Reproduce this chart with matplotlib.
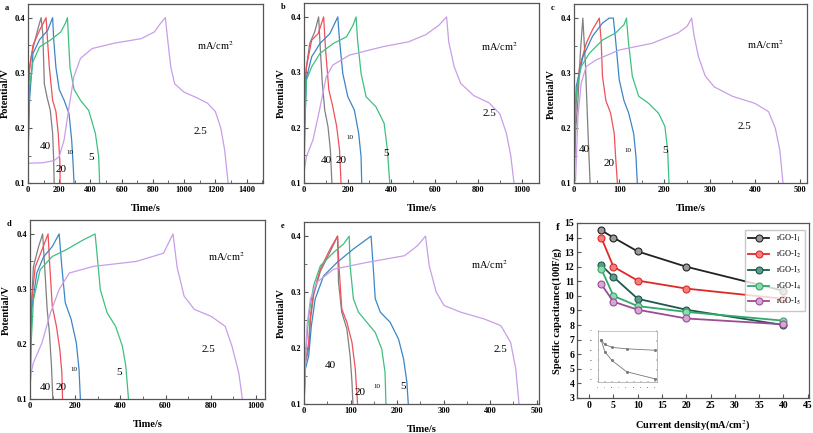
import numpy as np
import matplotlib
matplotlib.use('Agg')
import matplotlib.pyplot as plt
from matplotlib.ticker import MultipleLocator

plt.rcParams['font.family'] = ['Liberation Serif', 'DejaVu Serif']
plt.rcParams['mathtext.fontset'] = 'stix'

# current densities (mA/cm2) of the GCD curves, same order in every panel
currents = ['40', '20', '10', '5', '2.5']

# ---- panel a ----
a_t = [
    [0, 2, 4, 10, 21, 42, 67, 84, 95, 105, 122, 143, 158, 164, 168],
    [0, 2, 5, 12, 32, 74, 116, 125, 137, 158, 179, 194, 204, 206],
    [0, 3, 10, 32, 74, 126, 158, 165, 179, 200, 232, 263, 280, 290, 295],
    [0, 3, 10, 32, 74, 147, 210, 240, 253, 260, 269, 295, 337, 389, 432, 453, 459],
    [0, 95, 168, 200, 231, 263, 294, 336, 410, 557, 725, 809, 850, 880,
     895, 915, 940, 1000, 1080, 1150, 1200, 1235, 1260, 1275, 1282],
]
a_v = [
    [0.1, 0.2, 0.28, 0.31, 0.33, 0.356, 0.383, 0.4, 0.371, 0.28, 0.256, 0.232, 0.19, 0.148, 0.1],
    [0.1, 0.2, 0.28, 0.31, 0.35, 0.377, 0.4, 0.36, 0.31, 0.25, 0.23, 0.19, 0.14, 0.1],
    [0.1, 0.18, 0.25, 0.335, 0.36, 0.377, 0.4, 0.36, 0.31, 0.27, 0.25, 0.226, 0.178, 0.13, 0.1],
    [0.1, 0.18, 0.275, 0.32, 0.347, 0.36, 0.374, 0.39, 0.4, 0.36, 0.31, 0.27, 0.25, 0.232, 0.19, 0.148, 0.1],
    [0.136, 0.137, 0.141, 0.148, 0.178, 0.238, 0.293, 0.326, 0.344, 0.354, 0.362, 0.374, 0.39, 0.4,
     0.36, 0.31, 0.28, 0.265, 0.255, 0.245, 0.23, 0.2, 0.16, 0.12, 0.1],
]

# ---- panel b ----
b_t = [
    [0, 2, 5, 11, 26, 49, 67, 75, 84, 95, 110, 121, 128],
    [0, 2, 5, 11, 35, 65, 90, 99, 114, 132, 150, 163, 170],
    [0, 3, 11, 35, 73, 119, 155, 163, 178, 201, 231, 251, 262, 265],
    [0, 3, 11, 35, 73, 134, 195, 225, 239, 246, 262, 285, 330, 368, 383, 394],
    [0, 11, 41, 71, 102, 132, 208, 360, 480, 560, 620, 655,
     665, 690, 720, 780, 850, 900, 930, 950, 965],
]
b_v = [
    [0.1, 0.2, 0.28, 0.31, 0.352, 0.373, 0.4, 0.34, 0.28, 0.232, 0.202, 0.16, 0.1],
    [0.1, 0.2, 0.28, 0.31, 0.358, 0.37, 0.4, 0.34, 0.268, 0.238, 0.202, 0.16, 0.1],
    [0.1, 0.2, 0.29, 0.328, 0.352, 0.37, 0.4, 0.358, 0.298, 0.256, 0.232, 0.19, 0.148, 0.1],
    [0.1, 0.2, 0.286, 0.31, 0.334, 0.352, 0.364, 0.385, 0.4, 0.358, 0.298, 0.256, 0.238, 0.208, 0.16, 0.1],
    [0.12, 0.148, 0.178, 0.232, 0.292, 0.313, 0.331, 0.346, 0.355, 0.368, 0.385, 0.4,
     0.355, 0.31, 0.28, 0.258, 0.245, 0.225, 0.19, 0.15, 0.1],
]

# ---- panel c ----
c_t = [
    [0, 4, 8.7, 14.5, 19.6, 25.5, 30.5, 35.6],
    [0, 2, 5, 12, 27, 41, 56, 60, 63, 70.5, 81, 89, 92, 96],
    [0, 2, 5, 20, 41, 63, 78, 87, 92, 100, 110.5, 121, 132, 137, 140],
    [0, 2, 5, 16, 34, 63, 92, 110.5, 116, 120, 129, 143, 165, 187, 201, 207, 210],
    [0, 3.6, 8.7, 16, 27, 49, 100, 172, 230, 250, 260,
     265, 275, 290, 310, 350, 400, 430, 445, 455, 462],
]
c_v = [
    [0.1, 0.2, 0.25, 0.342, 0.4, 0.312, 0.203, 0.1],
    [0.1, 0.2, 0.25, 0.31, 0.354, 0.379, 0.4, 0.36, 0.294, 0.25, 0.227, 0.19, 0.148, 0.1],
    [0.1, 0.2, 0.276, 0.33, 0.367, 0.391, 0.4, 0.4, 0.36, 0.288, 0.25, 0.227, 0.19, 0.148, 0.1],
    [0.1, 0.2, 0.264, 0.312, 0.336, 0.36, 0.373, 0.388, 0.4, 0.36, 0.294, 0.258, 0.245, 0.227, 0.203, 0.16, 0.1],
    [0.1, 0.106, 0.221, 0.282, 0.312, 0.324, 0.342, 0.354, 0.373, 0.385, 0.4,
     0.37, 0.33, 0.295, 0.275, 0.258, 0.245, 0.23, 0.2, 0.16, 0.1],
]

# ---- panel d ----
d_t = [
    [0, 2, 4.5, 15, 38, 56, 65, 76, 86, 95, 101],
    [0, 3, 7.6, 23, 53, 80, 86, 98.5, 117, 132, 141, 144],
    [0, 3, 7.6, 30, 61, 98.5, 129, 141, 156, 182, 205, 217, 223],
    [0, 5, 15, 45, 98.5, 159, 235, 288, 295, 311, 341, 379, 409, 424, 436],
    [0, 5, 15, 53, 91, 129, 174, 280, 470, 591, 633,
     651, 682, 727, 803, 864, 894, 924, 940],
]
d_v = [
    [0.1, 0.2, 0.25, 0.34, 0.377, 0.4, 0.34, 0.263, 0.22, 0.16, 0.1],
    [0.1, 0.2, 0.28, 0.34, 0.371, 0.4, 0.353, 0.269, 0.232, 0.19, 0.148, 0.1],
    [0.1, 0.2, 0.263, 0.329, 0.359, 0.377, 0.4, 0.34, 0.275, 0.245, 0.202, 0.154, 0.1],
    [0.1, 0.2, 0.28, 0.335, 0.359, 0.371, 0.389, 0.4, 0.371, 0.299, 0.257, 0.232, 0.196, 0.16, 0.1],
    [0.12, 0.148, 0.166, 0.202, 0.257, 0.299, 0.329, 0.341, 0.35, 0.365, 0.4,
     0.34, 0.287, 0.263, 0.25, 0.232, 0.196, 0.148, 0.1],
]

# ---- panel e ----
e_t = [
    [0, 1.4, 5, 10, 13.6, 20.7, 35, 56, 72, 74, 81, 92, 99, 103, 105],
    [0, 1.4, 5, 10, 13.6, 20.7, 35, 56, 72, 75, 81, 92, 103, 110, 115],
    [0, 3, 10, 20.7, 35, 63.6, 85, 97, 99, 106, 117, 135, 153, 167, 174, 176],
    [0, 3, 10, 15.7, 24, 42, 71, 106, 144, 148, 153, 164, 185, 203, 214, 221, 224],
    [0, 3, 6.4, 13.6, 28, 64, 135, 216, 244, 261,
     269, 284, 301, 337, 387, 423, 444, 455, 462],
]
e_v = [
    [0.1, 0.17, 0.18, 0.2, 0.25, 0.295, 0.337, 0.372, 0.4, 0.318, 0.264, 0.234, 0.186, 0.139, 0.1],
    [0.1, 0.175, 0.186, 0.21, 0.258, 0.3, 0.341, 0.377, 0.4, 0.347, 0.27, 0.246, 0.21, 0.163, 0.1],
    [0.1, 0.186, 0.258, 0.312, 0.347, 0.371, 0.386, 0.4, 0.347, 0.288, 0.264, 0.246, 0.228, 0.198, 0.157, 0.1],
    [0.1, 0.163, 0.186, 0.24, 0.288, 0.329, 0.353, 0.377, 0.4, 0.353, 0.288, 0.264, 0.246, 0.216, 0.18, 0.139, 0.1],
    [0.1, 0.17, 0.24, 0.288, 0.318, 0.341, 0.353, 0.365, 0.383, 0.4,
     0.347, 0.3, 0.276, 0.264, 0.252, 0.24, 0.21, 0.163, 0.1],
]

# ---- panel f ----
density = [2.5, 5, 10, 20, 40]
cap_I1 = [14.5, 14.0, 13.05, 12.0, 10.35]
cap_I2 = [14.0, 12.0, 11.05, 10.5, 9.8]
cap_I3 = [12.1, 11.3, 9.8, 9.05, 8.0]
cap_I4 = [11.85, 10.0, 9.3, 8.9, 8.3]
cap_I5 = [10.8, 9.6, 9.05, 8.45, 8.05]
f_names = [r'rGO-I$_1$', r'rGO-I$_2$', r'rGO-I$_3$', r'rGO-I$_4$', r'rGO-I$_5$']
# inset (tiny, normalised)
inset_upper = [0.81, 0.72, 0.66, 0.63, 0.6]
inset_lower = [0.81, 0.57, 0.39, 0.16, 0.01]

gray = '#808080'
red = '#f0505a'
blue = '#3d85c6'
green = '#3fbf80'
purple = '#c89ee8'
col_std = [gray, red, blue, green, purple]
col_e = [gray, red, green, blue, purple]

spine_col = '#555555'


def style(ax, xmax, xmaj, xmin, ymin, ymax, label):
    for s in ax.spines.values():
        s.set_color(spine_col)
        s.set_linewidth(0.9)
    ax.set_xlim(0, xmax)
    ax.set_ylim(ymin, ymax)
    ax.xaxis.set_major_locator(MultipleLocator(xmaj))
    ax.xaxis.set_minor_locator(MultipleLocator(xmin))
    ax.tick_params(which='both', direction='in', top=False, right=False,
                   color=spine_col, labelsize=6, pad=2)
    ax.tick_params(which='major', length=3)
    ax.tick_params(which='minor', length=2)
    for lab in ax.get_xticklabels() + ax.get_yticklabels():
        lab.set_fontweight('bold')
    ax.text(-0.1, 1.0, label, transform=ax.transAxes, fontsize=6,
            fontweight='bold', va='top', ha='left')


def gcd_panel(ax, ts, vs, cols, xmax, xmaj, xmin, letter, labpos, unitpos, ylab_x):
    for t, v, c in zip(ts, vs, cols):
        ax.plot(t, v, color=c, lw=0.9)
    style(ax, xmax, xmaj, xmin, 0.1, 0.425, letter)
    ax.yaxis.set_minor_locator(MultipleLocator(0.05))
    ax.set_yticks([0.1, 0.2, 0.3, 0.4])
    ax.set_yticklabels(['0.1', '0.2', '0.3', '0.4'], fontweight='bold')
    ax.set_xlabel('Time/s', fontsize=7.5, fontweight='bold')
    ax.set_ylabel('Potential/V', fontsize=7.5, fontweight='bold')
    ax.xaxis.set_label_coords(0.5, -0.115)
    ax.yaxis.set_label_coords(ylab_x, 0.5)
    for cur, (x, y) in zip(currents, labpos):
        fs = 5 if cur == '10' else 8
        ax.text(x, y, cur, fontsize=fs, ha='center', va='center')
    ax.text(unitpos[0], unitpos[1], 'mA/cm$^2$', fontsize=7.5, ha='center', va='center')


fig = plt.figure(figsize=(8.13, 4.33), dpi=100)

ax_a = fig.add_axes([0.0344, 0.577, 0.289, 0.414])
gcd_panel(ax_a, a_t, a_v, col_std, 1505, 200, 100, 'a',
          [(109, 0.166), (210, 0.124), (269, 0.155), (405, 0.147), (1107, 0.193)],
          (1200, 0.35), -0.075)

ax_b = fig.add_axes([0.374, 0.577, 0.289, 0.416])
gcd_panel(ax_b, b_t, b_v, col_std, 1080, 200, 100, 'b',
          [(103, 0.141), (170, 0.141), (213, 0.183), (377, 0.153), (852, 0.226)],
          (897, 0.346), -0.077)

ax_c = fig.add_axes([0.706, 0.577, 0.2866, 0.413])
gcd_panel(ax_c, c_t, c_v, col_std, 515, 100, 50, 'c',
          [(22.5, 0.162), (78.5, 0.135), (120, 0.16), (201, 0.16), (377, 0.203)],
          (424, 0.351), -0.077)

ax_d = fig.add_axes([0.0369, 0.0785, 0.289, 0.413])
gcd_panel(ax_d, d_t, d_v, col_std, 1040, 200, 100, 'd',
          [(68, 0.121), (136, 0.121), (194, 0.153), (394, 0.149), (791, 0.19)],
          (871, 0.359), -0.08)

ax_e = fig.add_axes([0.374, 0.067, 0.289, 0.42])
gcd_panel(ax_e, e_t, e_v, col_e, 505, 100, 50, 'e',
          [(56, 0.169), (121, 0.121), (157, 0.132), (212, 0.132), (423, 0.198)],
          (398, 0.35), -0.077)

# ---- panel f ----
ax_f = fig.add_axes([0.7097, 0.081, 0.285, 0.404])
f_lines = ['#222222', '#e02828', '#1c5a4c', '#33a86a', '#9c4c96']
f_faces = ['#9a9a9a', '#f08080', '#5f9a8c', '#8fd8b0', '#d7a6d2']
for caps, lc, fc, nm in zip([cap_I1, cap_I2, cap_I3, cap_I4, cap_I5], f_lines, f_faces, f_names):
    ax_f.plot(density, caps, color=lc, lw=1.3, marker='o', ms=5,
              mfc=fc, mec=lc, mew=0.8, label=nm)
style(ax_f, 45, 5, 5, 3, 15, 'f')
ax_f.set_xlim(-2.5, 45.2)
ax_f.yaxis.set_major_locator(MultipleLocator(1))
ax_f.tick_params(labelsize=7)
for lab in ax_f.get_xticklabels() + ax_f.get_yticklabels():
    lab.set_fontweight('bold')
ax_f.texts[-1].set_position((-0.09, 1.0))
ax_f.texts[-1].set_fontsize(8)
ax_f.set_xlabel('Current density(mA/cm$^2$)', fontsize=7.5, fontweight='bold')
ax_f.set_ylabel('Specific capacitance(100F/g)', fontsize=7.5, fontweight='bold')
ax_f.xaxis.set_label_coords(0.5, -0.12)
ax_f.yaxis.set_label_coords(-0.065, 0.5)
ax_f.legend(loc='upper right', fontsize=6, frameon=True, edgecolor='#bbbbbb',
            fancybox=False, handlelength=2.5, borderpad=0.4, labelspacing=0.55,
            bbox_to_anchor=(1.0, 0.985))

ax_in = fig.add_axes([0.735, 0.118, 0.073, 0.118])
ax_in.plot(density, inset_upper, color='#777777', lw=0.6, marker='s', ms=1)
ax_in.plot(density, inset_lower, color='#777777', lw=0.6, marker='s', ms=1)
ax_in.set_xlim(0, 41)
ax_in.set_ylim(-0.05, 1.0)
ax_in.tick_params(labelsize=1.5, length=1, width=0.3, direction='in', right=True)
ax_in.set_xticks([0, 5, 10, 15, 20, 25, 30, 35, 40])
ax_in.set_yticks([0, 0.2, 0.4, 0.6, 0.8, 1.0])
for s in ax_in.spines.values():
    s.set_linewidth(0.4)
    s.set_color('#888888')
ax_in.spines['top'].set_color('#8899cc')

plt.savefig('out.png', dpi=100)
